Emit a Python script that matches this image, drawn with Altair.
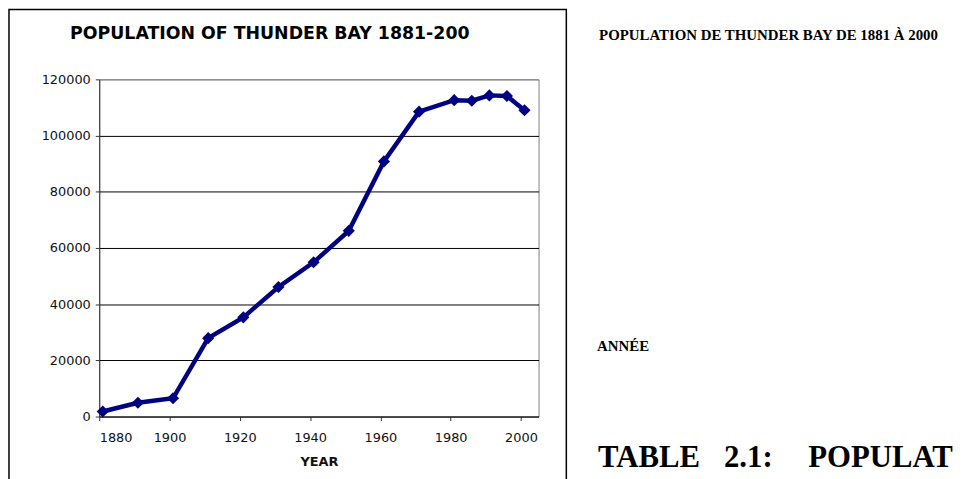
import altair as alt
import pandas as pd

years = [1881, 1891, 1901, 1911, 1921, 1931, 1941, 1951, 1961, 1971, 1981, 1986, 1991, 1996, 2001]
population = [1800, 4900, 6500, 27900, 35300, 46100, 54900, 66100, 90800, 108500, 112600, 112400, 114300, 114100, 109000]
x_ticks = [1880, 1900, 1920, 1940, 1960, 1980, 2000]
y_ticks = [0, 20000, 40000, 60000, 80000, 100000, 120000]

chart_title = "POPULATION OF THUNDER BAY 1881-200"
x_title = "YEAR"
fr_title = "POPULATION DE THUNDER BAY DE 1881 À 2000"
fr_axis = "ANNÉE"
table_words = ["TABLE", "2.1:", "POPULAT"]

df = pd.DataFrame({"year": years, "population": population})

x = alt.X(
    "year:Q",
    scale=alt.Scale(domain=[1880, 2005], nice=False, zero=False),
    axis=alt.Axis(
        values=x_ticks, format="d", title=x_title, grid=False,
        labelFont="DejaVu Sans", labelFontSize=13, labelColor="#111",
        labelPadding=11, tickSize=4, tickColor="#333", domainColor="#333",
        titleFont="DejaVu Sans", titleFontSize=13, titleFontWeight="bold",
        titleColor="#111", titlePadding=11,
    ),
)
y = alt.Y(
    "population:Q",
    scale=alt.Scale(domain=[0, 120000], nice=False),
    axis=alt.Axis(
        values=y_ticks, format="d", title=None, grid=True,
        gridColor={"condition": {"test": "datum.value >= 120000", "value": "#808080"}, "value": "#000000"},
        gridWidth=1,
        labelFont="DejaVu Sans", labelFontSize=13, labelColor="#111",
        labelPadding=5, tickSize=4, tickColor="#333", domainColor="#333",
    ),
)

base = alt.Chart(df).encode(x=x, y=y)
line = base.mark_line(color="#000080", strokeWidth=4.5)
pts = base.mark_point(shape="diamond", filled=True, size=150, color="#000080", opacity=1)

one = pd.DataFrame({"a": [0]})
box = alt.Chart(one).mark_rect(fill="transparent", stroke="black", strokeWidth=1.5).encode(
    x=alt.value(-91), x2=alt.value(471), y=alt.value(-70.5), y2=alt.value(430)
)

def txt(s, xv, yv, font, size, align="left", baseline="alphabetic"):
    return alt.Chart(pd.DataFrame({"t": [s]})).mark_text(
        font=font, fontSize=size, fontWeight="bold", align=align, baseline=baseline, color="#000"
    ).encode(text="t:N", x=alt.value(xv), y=alt.value(yv))

layers = [
    box, line, pts,
    txt(chart_title, 172, -46, "DejaVu Sans", 17.5, align="center", baseline="middle"),
    txt(fr_title, 504, -40, "Liberation Serif", 15),
    txt(fr_axis, 502, 273.5, "Liberation Serif", 15),
    txt(table_words[0], 503, 391, "Liberation Serif", 31),
    txt(table_words[1], 630, 391, "Liberation Serif", 31),
    txt(table_words[2], 715, 391, "Liberation Serif", 31),
]

chart = alt.layer(*layers).properties(
    width=443, height=340,
    autosize=alt.AutoSizeParams(type="none"),
    padding={"left": 92, "top": 70, "right": 428, "bottom": 61},
).configure_view(stroke="#808080", strokeWidth=1)

chart.save("out.html", embed_options={"renderer": "svg", "actions": False})
